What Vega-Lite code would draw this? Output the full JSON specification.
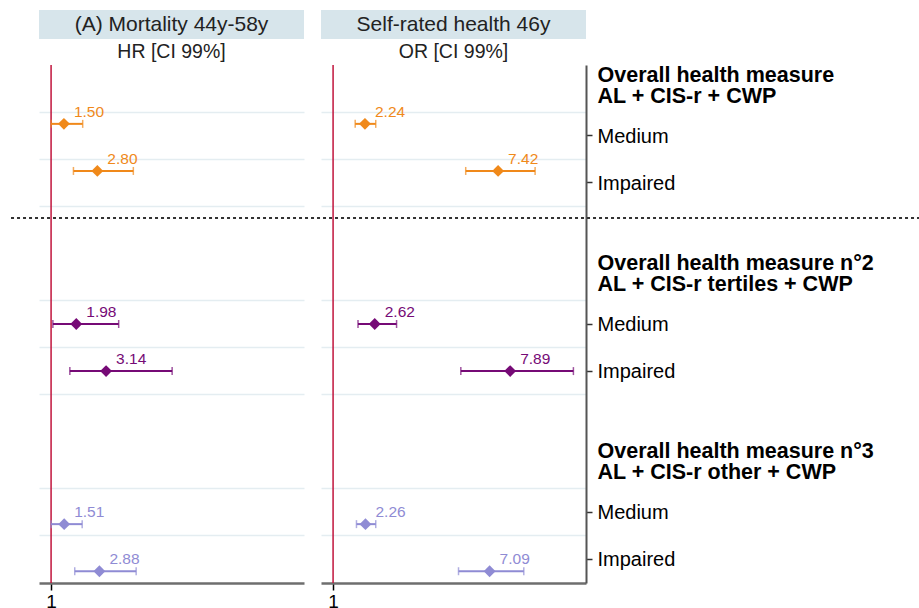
{
  "$schema": "https://vega.github.io/schema/vega-lite/v6.json",
  "padding": {"left": 10, "top": 10, "right": 0, "bottom": 0},
  "bounds": "flush",
  "columns": 2,
  "spacing": {"row": 26, "column": 17},
  "config": {"font": "Liberation Sans", "view": {"stroke": null}},
  "datasets": {
    "est": [
      {"panel": "A", "group": "g1", "item": "Medium 1", "est": 1.50, "lo": 1.00, "hi": 2.23},
      {"panel": "A", "group": "g1", "item": "Impaired 1", "est": 2.80, "lo": 1.87, "hi": 4.20},
      {"panel": "A", "group": "g2", "item": "Medium 2", "est": 1.98, "lo": 1.07, "hi": 3.63},
      {"panel": "A", "group": "g2", "item": "Impaired 2", "est": 3.14, "lo": 1.73, "hi": 5.71},
      {"panel": "A", "group": "g3", "item": "Medium 3", "est": 1.51, "lo": 1.00, "hi": 2.21},
      {"panel": "A", "group": "g3", "item": "Impaired 3", "est": 2.88, "lo": 1.92, "hi": 4.31},
      {"panel": "B", "group": "g1", "item": "Medium 1", "est": 2.24, "lo": 1.86, "hi": 2.66},
      {"panel": "B", "group": "g1", "item": "Impaired 1", "est": 7.42, "lo": 6.16, "hi": 8.86},
      {"panel": "B", "group": "g2", "item": "Medium 2", "est": 2.62, "lo": 1.97, "hi": 3.47},
      {"panel": "B", "group": "g2", "item": "Impaired 2", "est": 7.89, "lo": 5.97, "hi": 10.35},
      {"panel": "B", "group": "g3", "item": "Medium 3", "est": 2.26, "lo": 1.91, "hi": 2.66},
      {"panel": "B", "group": "g3", "item": "Impaired 3", "est": 7.09, "lo": 5.88, "hi": 8.42}
    ]
  },
  "concat": [
    {
      "width": 265, "height": 29,
      "view": {"fill": "#d7e5eb", "stroke": null},
      "title": {"text": "HR [CI 99%]", "orient": "bottom", "fontSize": 19.5, "fontWeight": "normal", "color": "#222", "anchor": "middle", "offset": 4, "baseline": "top"},
      "data": {"values": [{"t": "(A) Mortality 44y-58y"}]},
      "mark": {"type": "text", "fontSize": 21, "color": "#222", "baseline": "middle"},
      "encoding": {"text": {"field": "t"}}
    },
    {
      "width": 265, "height": 29,
      "view": {"fill": "#d7e5eb", "stroke": null},
      "title": {"text": "OR [CI 99%]", "orient": "bottom", "fontSize": 19.5, "fontWeight": "normal", "color": "#222", "anchor": "middle", "offset": 4, "baseline": "top"},
      "data": {"values": [{"t": "Self-rated health 46y"}]},
      "mark": {"type": "text", "fontSize": 21, "color": "#222", "baseline": "middle"},
      "encoding": {"text": {"field": "t"}}
    },
    {
      "width": 265, "height": 518,
      "resolve": {"axis": {"x": "independent", "y": "independent"}},
      "layer": [
        {
          "data": {"values": [{}]},
          "mark": {"type": "rule", "color": "#c0143c", "strokeWidth": 1.5},
          "encoding": {
            "x": {"datum": 1, "type": "quantitative", "scale": {"domain": [0.53, 10.84], "nice": false, "zero": false},
              "axis": {"orient": "bottom", "values": [1], "title": null, "grid": false, "domainColor": "#6e6e6e", "domainWidth": 2.5, "tickColor": "#000", "tickWidth": 1.5, "tickSize": 7, "labelFontSize": 19, "labelColor": "#000", "labelPadding": 2}}
          }
        },
        {
          "data": {"name": "est"},
          "transform": [{"filter": "datum.panel == 'A'"}],
          "mark": {"type": "rule", "strokeWidth": 2},
          "encoding": {
            "x": {"field": "lo", "type": "quantitative", "scale": {"domain": [0.53, 10.84], "nice": false, "zero": false}, "axis": null},
            "x2": {"field": "hi"},
            "y": {"field": "item", "type": "nominal", "scale": {"domain": ["H1", "Medium 1", "Impaired 1", "gap1", "H2", "Medium 2", "Impaired 2", "gap2", "H3", "Medium 3", "Impaired 3"], "paddingInner": 0, "paddingOuter": 0},
              "axis": {"orient": "left", "grid": true, "bandPosition": 0, "domain": false, "ticks": false, "labels": false, "title": null, "gridColor": "#e4edf1", "gridWidth": 1.5, "gridOpacity": {"condition": {"test": "indexof(datum.value, 'H') == 0", "value": 0}, "value": 1}}},
            "yOffset": {"field": "group", "type": "nominal", "scale": {"domain": ["g1", "g2", "g3"], "paddingInner": 0, "paddingOuter": 0.5}},
            "color": {"field": "group", "type": "nominal", "scale": {"domain": ["g1", "g2", "g3"], "range": ["#f0891a", "#760a76", "#8f8bd4"]}, "legend": null}
          }
        },
        {
          "data": {"name": "est"},
          "transform": [{"filter": "datum.panel == 'A'"}],
          "mark": {"type": "tick", "size": 8, "thickness": 1.5},
          "encoding": {
            "x": {"field": "lo", "type": "quantitative", "scale": {"domain": [0.53, 10.84], "nice": false, "zero": false}, "axis": null},
            "y": {"field": "item", "type": "nominal", "scale": {"domain": ["H1", "Medium 1", "Impaired 1", "gap1", "H2", "Medium 2", "Impaired 2", "gap2", "H3", "Medium 3", "Impaired 3"], "paddingInner": 0, "paddingOuter": 0}, "axis": null},
            "yOffset": {"field": "group", "type": "nominal", "scale": {"domain": ["g1", "g2", "g3"], "paddingInner": 0, "paddingOuter": 0.5}},
            "color": {"field": "group", "type": "nominal", "scale": {"domain": ["g1", "g2", "g3"], "range": ["#f0891a", "#760a76", "#8f8bd4"]}, "legend": null}
          }
        },
        {
          "data": {"name": "est"},
          "transform": [{"filter": "datum.panel == 'A'"}],
          "mark": {"type": "tick", "size": 8, "thickness": 1.5},
          "encoding": {
            "x": {"field": "hi", "type": "quantitative", "scale": {"domain": [0.53, 10.84], "nice": false, "zero": false}, "axis": null},
            "y": {"field": "item", "type": "nominal", "scale": {"domain": ["H1", "Medium 1", "Impaired 1", "gap1", "H2", "Medium 2", "Impaired 2", "gap2", "H3", "Medium 3", "Impaired 3"], "paddingInner": 0, "paddingOuter": 0}, "axis": null},
            "yOffset": {"field": "group", "type": "nominal", "scale": {"domain": ["g1", "g2", "g3"], "paddingInner": 0, "paddingOuter": 0.5}},
            "color": {"field": "group", "type": "nominal", "scale": {"domain": ["g1", "g2", "g3"], "range": ["#f0891a", "#760a76", "#8f8bd4"]}, "legend": null}
          }
        },
        {
          "data": {"name": "est"},
          "transform": [{"filter": "datum.panel == 'A'"}],
          "mark": {"type": "point", "shape": "diamond", "filled": true, "size": 140, "opacity": 1},
          "encoding": {
            "x": {"field": "est", "type": "quantitative", "scale": {"domain": [0.53, 10.84], "nice": false, "zero": false}, "axis": null},
            "y": {"field": "item", "type": "nominal", "scale": {"domain": ["H1", "Medium 1", "Impaired 1", "gap1", "H2", "Medium 2", "Impaired 2", "gap2", "H3", "Medium 3", "Impaired 3"], "paddingInner": 0, "paddingOuter": 0}, "axis": null},
            "yOffset": {"field": "group", "type": "nominal", "scale": {"domain": ["g1", "g2", "g3"], "paddingInner": 0, "paddingOuter": 0.5}},
            "color": {"field": "group", "type": "nominal", "scale": {"domain": ["g1", "g2", "g3"], "range": ["#f0891a", "#760a76", "#8f8bd4"]}, "legend": null}
          }
        },
        {
          "data": {"name": "est"},
          "transform": [{"filter": "datum.panel == 'A'"}],
          "mark": {"type": "text", "align": "left", "baseline": "middle", "dx": 10, "dy": -12, "fontSize": 15.5},
          "encoding": {
            "x": {"field": "est", "type": "quantitative", "scale": {"domain": [0.53, 10.84], "nice": false, "zero": false}, "axis": null},
            "y": {"field": "item", "type": "nominal", "scale": {"domain": ["H1", "Medium 1", "Impaired 1", "gap1", "H2", "Medium 2", "Impaired 2", "gap2", "H3", "Medium 3", "Impaired 3"], "paddingInner": 0, "paddingOuter": 0}, "axis": null},
            "yOffset": {"field": "group", "type": "nominal", "scale": {"domain": ["g1", "g2", "g3"], "paddingInner": 0, "paddingOuter": 0.5}},
            "text": {"field": "est", "type": "quantitative", "format": ".2f"},
            "color": {"field": "group", "type": "nominal", "scale": {"domain": ["g1", "g2", "g3"], "range": ["#f0891a", "#760a76", "#8f8bd4"]}, "legend": null}
          }
        }
      ]
    },
    {
      "width": 265, "height": 518,
      "resolve": {"axis": {"x": "independent", "y": "independent"}},
      "layer": [
        {
          "data": {"values": [{}]},
          "mark": {"type": "rule", "color": "#c0143c", "strokeWidth": 1.5},
          "encoding": {
            "x": {"datum": 1, "type": "quantitative", "scale": {"domain": [0.53, 10.84], "nice": false, "zero": false},
              "axis": {"orient": "bottom", "values": [1], "title": null, "grid": false, "domainColor": "#6e6e6e", "domainWidth": 2.5, "tickColor": "#000", "tickWidth": 1.5, "tickSize": 7, "labelFontSize": 19, "labelColor": "#000", "labelPadding": 2}}
          }
        },
        {
          "data": {"name": "est"},
          "transform": [{"filter": "datum.panel == 'B'"}],
          "mark": {"type": "rule", "strokeWidth": 2},
          "encoding": {
            "x": {"field": "lo", "type": "quantitative", "scale": {"domain": [0.53, 10.84], "nice": false, "zero": false}, "axis": null},
            "x2": {"field": "hi"},
            "y": {"field": "item", "type": "nominal", "scale": {"domain": ["H1", "Medium 1", "Impaired 1", "gap1", "H2", "Medium 2", "Impaired 2", "gap2", "H3", "Medium 3", "Impaired 3"], "paddingInner": 0, "paddingOuter": 0},
              "axis": {"orient": "left", "grid": true, "bandPosition": 0, "domain": false, "ticks": false, "labels": false, "title": null, "gridColor": "#e4edf1", "gridWidth": 1.5, "gridOpacity": {"condition": {"test": "indexof(datum.value, 'H') == 0", "value": 0}, "value": 1}}},
            "yOffset": {"field": "group", "type": "nominal", "scale": {"domain": ["g1", "g2", "g3"], "paddingInner": 0, "paddingOuter": 0.5}},
            "color": {"field": "group", "type": "nominal", "scale": {"domain": ["g1", "g2", "g3"], "range": ["#f0891a", "#760a76", "#8f8bd4"]}, "legend": null}
          }
        },
        {
          "data": {"name": "est"},
          "transform": [{"filter": "datum.panel == 'B'"}],
          "mark": {"type": "tick", "size": 8, "thickness": 1.5},
          "encoding": {
            "x": {"field": "lo", "type": "quantitative", "scale": {"domain": [0.53, 10.84], "nice": false, "zero": false}, "axis": null},
            "y": {"field": "item", "type": "nominal", "scale": {"domain": ["H1", "Medium 1", "Impaired 1", "gap1", "H2", "Medium 2", "Impaired 2", "gap2", "H3", "Medium 3", "Impaired 3"], "paddingInner": 0, "paddingOuter": 0}, "axis": null},
            "yOffset": {"field": "group", "type": "nominal", "scale": {"domain": ["g1", "g2", "g3"], "paddingInner": 0, "paddingOuter": 0.5}},
            "color": {"field": "group", "type": "nominal", "scale": {"domain": ["g1", "g2", "g3"], "range": ["#f0891a", "#760a76", "#8f8bd4"]}, "legend": null}
          }
        },
        {
          "data": {"name": "est"},
          "transform": [{"filter": "datum.panel == 'B'"}],
          "mark": {"type": "tick", "size": 8, "thickness": 1.5},
          "encoding": {
            "x": {"field": "hi", "type": "quantitative", "scale": {"domain": [0.53, 10.84], "nice": false, "zero": false}, "axis": null},
            "y": {"field": "item", "type": "nominal", "scale": {"domain": ["H1", "Medium 1", "Impaired 1", "gap1", "H2", "Medium 2", "Impaired 2", "gap2", "H3", "Medium 3", "Impaired 3"], "paddingInner": 0, "paddingOuter": 0}, "axis": null},
            "yOffset": {"field": "group", "type": "nominal", "scale": {"domain": ["g1", "g2", "g3"], "paddingInner": 0, "paddingOuter": 0.5}},
            "color": {"field": "group", "type": "nominal", "scale": {"domain": ["g1", "g2", "g3"], "range": ["#f0891a", "#760a76", "#8f8bd4"]}, "legend": null}
          }
        },
        {
          "data": {"name": "est"},
          "transform": [{"filter": "datum.panel == 'B'"}],
          "mark": {"type": "point", "shape": "diamond", "filled": true, "size": 140, "opacity": 1},
          "encoding": {
            "x": {"field": "est", "type": "quantitative", "scale": {"domain": [0.53, 10.84], "nice": false, "zero": false}, "axis": null},
            "y": {"field": "item", "type": "nominal", "scale": {"domain": ["H1", "Medium 1", "Impaired 1", "gap1", "H2", "Medium 2", "Impaired 2", "gap2", "H3", "Medium 3", "Impaired 3"], "paddingInner": 0, "paddingOuter": 0},
              "axis": {"orient": "right", "grid": false, "title": null, "domain": true, "domainColor": "#555", "domainWidth": 2, "ticks": true, "tickColor": "#333", "tickWidth": 1.5, "tickSize": 6,
                "tickOpacity": {"condition": {"test": "indexof(datum.value, 'H') == 0 || indexof(datum.value, 'gap') == 0", "value": 0}, "value": 1},
                "labelPadding": 5, "labelLimit": 400, "labelOverlap": false, "labelColor": "#000", "labelAlign": "left", "labelBaseline": "middle", "labelLineHeight": 21,
                "labelOffset": {"condition": {"test": "indexof(datum.value, 'H') == 0", "value": -13}, "value": 1},
                "labelFontSize": {"condition": {"test": "indexof(datum.value, 'H') == 0", "value": 21.5}, "value": 20},
                "labelFontWeight": {"condition": {"test": "indexof(datum.value, 'H') == 0", "value": "bold"}, "value": "normal"},
                "labelExpr": "datum.value == 'H1' ? ['Overall health measure', 'AL + CIS-r + CWP'] : datum.value == 'H2' ? ['Overall health measure n°2', 'AL + CIS-r tertiles + CWP'] : datum.value == 'H3' ? ['Overall health measure n°3', 'AL + CIS-r other + CWP'] : indexof(datum.value, 'gap') == 0 ? '' : split(datum.value, ' ')[0]"}},
            "yOffset": {"field": "group", "type": "nominal", "scale": {"domain": ["g1", "g2", "g3"], "paddingInner": 0, "paddingOuter": 0.5}},
            "color": {"field": "group", "type": "nominal", "scale": {"domain": ["g1", "g2", "g3"], "range": ["#f0891a", "#760a76", "#8f8bd4"]}, "legend": null}
          }
        },
        {
          "data": {"name": "est"},
          "transform": [{"filter": "datum.panel == 'B'"}],
          "mark": {"type": "text", "align": "left", "baseline": "middle", "dx": 10, "dy": -12, "fontSize": 15.5},
          "encoding": {
            "x": {"field": "est", "type": "quantitative", "scale": {"domain": [0.53, 10.84], "nice": false, "zero": false}, "axis": null},
            "y": {"field": "item", "type": "nominal", "scale": {"domain": ["H1", "Medium 1", "Impaired 1", "gap1", "H2", "Medium 2", "Impaired 2", "gap2", "H3", "Medium 3", "Impaired 3"], "paddingInner": 0, "paddingOuter": 0}, "axis": null},
            "yOffset": {"field": "group", "type": "nominal", "scale": {"domain": ["g1", "g2", "g3"], "paddingInner": 0, "paddingOuter": 0.5}},
            "text": {"field": "est", "type": "quantitative", "format": ".2f"},
            "color": {"field": "group", "type": "nominal", "scale": {"domain": ["g1", "g2", "g3"], "range": ["#f0891a", "#760a76", "#8f8bd4"]}, "legend": null}
          }
        },
        {
          "data": {"values": [{}]},
          "mark": {"type": "rule", "color": "#333", "strokeWidth": 2, "strokeDash": [3, 3], "clip": false},
          "encoding": {
            "x": {"datum": -11.53, "type": "quantitative", "scale": {"domain": [0.53, 10.84], "nice": false, "zero": false}, "axis": null},
            "x2": {"datum": 24},
            "y": {"datum": "gap1", "type": "nominal", "bandPosition": 0.25, "scale": {"domain": ["H1", "Medium 1", "Impaired 1", "gap1", "H2", "Medium 2", "Impaired 2", "gap2", "H3", "Medium 3", "Impaired 3"], "paddingInner": 0, "paddingOuter": 0}, "axis": null}
          }
        }
      ]
    }
  ]
}
